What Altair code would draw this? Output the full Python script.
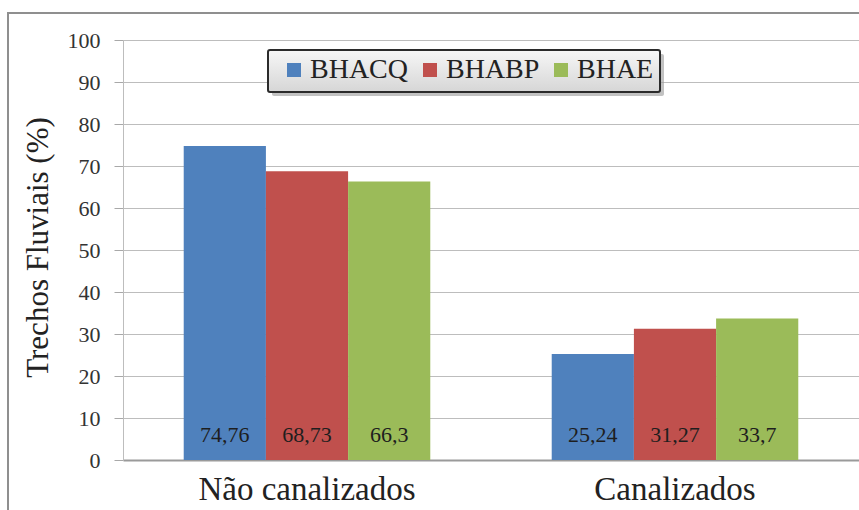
import altair as alt
import pandas as pd

categories = ["Não canalizados", "Canalizados"]
series = ["BHACQ", "BHABP", "BHAE"]
bhacq = [74.76, 25.24]
bhabp = [68.73, 31.27]
bhae = [66.3, 33.7]
colors = ["#4F81BD", "#C0504D", "#9BBB59"]

rows = []
for s, vals in zip(series, [bhacq, bhabp, bhae]):
    for c, v in zip(categories, vals):
        rows.append({"cat": c, "serie": s, "val": v,
                     "lbl": str(v).replace(".", ",")})
df = pd.DataFrame(rows)
one = pd.DataFrame({"k": [0]})

FONT = "Liberation Serif"

x_enc = alt.X("cat:N", sort=categories, title=None,
              scale=alt.Scale(paddingInner=0.33, paddingOuter=0.165),
              axis=alt.Axis(labelFontSize=33, labelColor="#222", ticks=False,
                            labelPadding=13, labelBaseline="top", labelLimit=0,
                            labelFont=FONT,
                            domainColor="#9a9a9a", domainWidth=2, labelAngle=0))
xo_enc = alt.XOffset("serie:N", sort=series, scale=alt.Scale(paddingInner=0, paddingOuter=0))

frame = alt.Chart(one).mark_rect(fill=None, stroke="#8f8f8f", strokeWidth=2).encode(
    x=alt.value(-115), x2=alt.value(760), y=alt.value(-27), y2=alt.value(520))

shadow = alt.Chart(one).mark_rect(fill="#9a9a9a", opacity=0.6, cornerRadius=2).encode(
    x=alt.value(149), x2=alt.value(541), y=alt.value(14), y2=alt.value(56))

legbox = alt.Chart(one).mark_rect(
    color=alt.Gradient(gradient="linear",
                       stops=[alt.GradientStop(color="#f7f7f7", offset=0),
                              alt.GradientStop(color="#d6d6d6", offset=1)],
                       x1=0, x2=0, y1=0, y2=1),
    stroke="#2b2b2b", strokeWidth=2, cornerRadius=2).encode(
    x=alt.value(145), x2=alt.value(537), y=alt.value(10), y2=alt.value(52))

bars = alt.Chart(df).mark_bar(opacity=1).encode(
    x=x_enc,
    xOffset=xo_enc,
    y=alt.Y("val:Q", scale=alt.Scale(domain=[0, 100], nice=False),
            title="Trechos Fluviais (%)",
            axis=alt.Axis(values=list(range(0, 101, 10)), tickSize=9, tickColor="#a8a8a8",
                          labelFontSize=22, labelColor="#333", labelPadding=14,
                          labelFont=FONT, titleFont=FONT,
                          domainColor="#bdbdbd", gridColor="#bdbdbd",
                          titleFontSize=31, titleFontWeight="normal", titleColor="#222",
                          titleX=-85, titleY=207, titleAngle=270,
                          titleAlign="center", titleBaseline="middle")),
    color=alt.Color("serie:N", sort=series, title=None,
                    scale=alt.Scale(domain=series, range=colors),
                    legend=alt.Legend(orient="none", legendX=157, legendY=16,
                                      direction="horizontal", symbolType="square",
                                      symbolSize=196, symbolStrokeWidth=0,
                                      labelFont=FONT,
                                      labelFontSize=28, labelColor="#222",
                                      labelOffset=2, columnPadding=7, padding=0)),
)

labels = alt.Chart(df).mark_text(fontSize=22, color="#1e1e1e", font=FONT).encode(
    x=alt.X("cat:N", sort=categories),
    xOffset=alt.XOffset("serie:N", sort=series),
    y=alt.datum(6.0),
    text="lbl:N",
)

chart = alt.layer(frame, shadow, legbox, bars, labels).properties(
    width=736, height=420,
    autosize=alt.AutoSizeParams(type="none"),
    padding={"left": 123, "top": 40, "right": 0, "bottom": 50},
    background="white",
).configure_view(stroke=None).configure(font=FONT)

chart.save("out.html", embed_options={"renderer": "svg", "actions": False})
